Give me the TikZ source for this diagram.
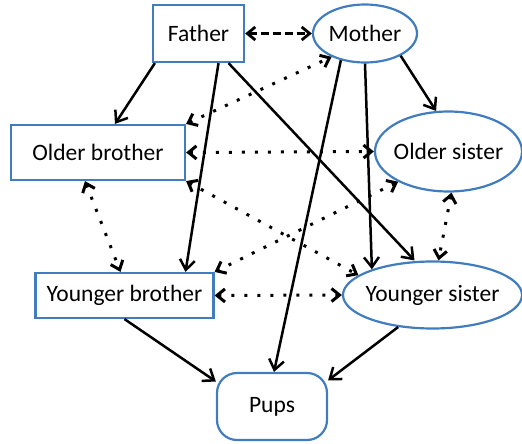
\documentclass[tikz,border=0pt]{standalone}
\usepackage{fontspec}
\setmainfont{Carlito}
\usetikzlibrary{positioning,shapes.geometric,arrows.meta}
\definecolor{famblue}{RGB}{65,125,190}

\begin{document}
\begin{tikzpicture}[x=1pt,y=-1pt,on grid,font=\fontsize{23.5}{28}\selectfont,
    main node/.style={draw=famblue,line width=2.2pt,inner sep=0pt},
    box node/.style={main node,rectangle},
    oval node/.style={main node,ellipse,inner xsep=-6pt},
    gene/.style={-{Straight Barb[length=10pt,width=15pt]},line width=2.5pt},
    bond/.style={{Straight Barb[length=8pt,width=13pt]}-{Straight Barb[length=8pt,width=13pt]},line width=3pt,dash pattern=on 3pt off 10pt},
    mate/.style={{Straight Barb[length=8pt,width=13pt]}-{Straight Barb[length=8pt,width=13pt]},line width=2.8pt,dash pattern=on 8pt off 4pt}]
    \useasboundingbox (0,0) rectangle (522,444);
    % parents, children, pups
    \node[box node,minimum width=91pt,minimum height=57pt] (father) at (198.5,33.5) {Father};
    \node[oval node,minimum width=104pt,minimum height=58pt] (mother) [right=166.5pt of father] {Mother};
    \node[box node,minimum width=174pt,minimum height=55pt] (obro) [below left=119pt and 100.5pt of father] {Older brother};
    \node[oval node,minimum width=147pt,minimum height=80pt] (osis) [below right=118pt and 83.5pt of mother] {Older sister};
    \node[box node,minimum width=178pt,minimum height=45pt] (ybro) [below right=143pt and 26.5pt of obro] {Younger brother};
    \node[oval node,minimum width=179pt,minimum height=67pt] (ysis) [below left=143.5pt and 16pt of osis] {Younger sister};
    \node[box node,rounded corners=20pt,minimum width=110pt,minimum height=67pt] (pups) [below right=111pt and 147.5pt of ybro] {Pups};

    \path[gene]
    ([xshift=3pt]father.south west) edge ([xshift=17pt]obro.north)
    ([xshift=20pt]father.south) edge ([xshift=61pt]ybro.north)
    ([xshift=30pt]father.south) edge ([xshift=-18pt]ysis.north)
    (mother.-32) edge (osis.107)
    (mother.south) edge (ysis.157)
    (mother.228) edge ([xshift=2pt]pups.north)
    (ybro.south) edge (pups.156)
    (ysis.223) edge (pups.25);

    \path[mate] (father.east) edge (mother.west);
    \path[bond]
    (obro.north east) edge (mother.215)
    (obro.east) edge (osis.west)
    (obro.south east) edge (ysis.165)
    ([xshift=-13pt]obro.south) edge ([xshift=-4pt]ybro.north)
    (osis.211) edge (ybro.north east)
    ([xshift=3pt]osis.south) edge ([xshift=6pt]ysis.north)
    (ybro.east) edge (ysis.west);
\end{tikzpicture}
\end{document}
